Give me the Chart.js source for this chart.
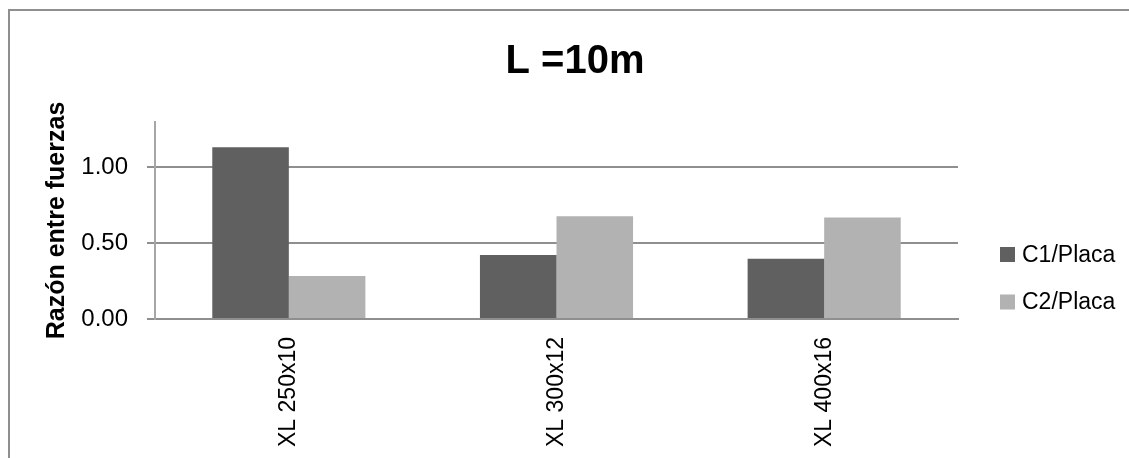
<!DOCTYPE html>
<html>
<head>
<meta charset="utf-8">
<script src="https://cdn.jsdelivr.net/npm/chart.js@4.4.0/dist/chart.umd.min.js"></script>
<style>
  html, body { margin: 0; padding: 0; background: #fff; }
  #wrap { width: 1129px; height: 458px; position: relative; }
</style>
</head>
<body>
<div id="wrap"><canvas id="grafico"></canvas></div>
<script>
// Datos del gráfico
var titulo = 'L =10m';
var categorias = ["XL 250x10", "XL 300x12", "XL 400x16"];
var c1Placa = [1.134, 0.423, 0.397];
var c2Placa = [0.283, 0.678, 0.669];
var ticksY = [0, 0.5, 1.0];
var maxY = 1.3;

var fuente = "'Liberation Sans', Arial, sans-serif";
var colorGris = '#8f8f8f';

// Marco exterior y título centrado sobre todo el lienzo
var marco = {
    id: 'marco',
    beforeDraw: function (chart) {
        var ctx = chart.ctx;
        ctx.save();
        ctx.strokeStyle = colorGris;
        ctx.lineWidth = 2;
        ctx.strokeRect(9, 10, 1200, 600);
        ctx.fillStyle = '#000';
        ctx.font = 'bold 40px ' + fuente;
        ctx.textAlign = 'center';
        ctx.textBaseline = 'middle';
        ctx.fillText(titulo, 575, 62);
        ctx.restore();
    }
};

// Leyenda a la derecha
var leyenda = {
    id: 'leyenda',
    afterDraw: function (chart) {
        var ctx = chart.ctx;
        var centros = [254.5, 302];
        ctx.save();
        ctx.font = '23px ' + fuente;
        ctx.textBaseline = 'middle';
        ctx.textAlign = 'left';
        chart.data.datasets.forEach(function (ds, i) {
            ctx.fillStyle = ds.backgroundColor;
            ctx.fillRect(1000, centros[i] - 7.5, 15, 15);
            ctx.fillStyle = '#000';
            ctx.fillText(ds.label, 1022, centros[i] + 1);
        });
        ctx.restore();
    }
};

var ctx = document.getElementById('grafico').getContext('2d');
var myChart = new Chart(ctx, {
    type: 'bar',
    data: {
        labels: categorias,
        datasets: [
            { label: 'C1/Placa', data: c1Placa, backgroundColor: '#606060' },
            { label: 'C2/Placa', data: c2Placa, backgroundColor: '#b2b2b2' }
        ]
    },
    options: {
        responsive: true,
        maintainAspectRatio: false,
        animation: false,
        layout: { padding: { left: 0, right: 171, top: 122, bottom: 0 } },
        datasets: {
            bar: { categoryPercentage: 0.572, barPercentage: 1.0, borderWidth: 0 }
        },
        plugins: {
            legend: { display: false },
            tooltip: { enabled: false },
            title: { display: false }
        },
        scales: {
            x: {
                grid: { display: false, drawTicks: false },
                border: { display: true, color: colorGris, width: 2 },
                ticks: {
                    color: '#000',
                    font: { family: fuente, size: 23 },
                    minRotation: 90,
                    maxRotation: 90,
                    padding: 18
                },
                afterFit: function (scale) { scale.height = 139; }
            },
            y: {
                min: 0,
                max: maxY,
                afterBuildTicks: function (scale) {
                    scale.ticks = ticksY.map(function (v) { return { value: v }; });
                },
                grid: { color: colorGris, lineWidth: 2, tickLength: 8, drawTicks: true },
                border: { display: true, color: '#a6a6a6', width: 2 },
                ticks: {
                    color: '#000',
                    font: { family: fuente, size: 24 },
                    padding: 19,
                    callback: function (v) { return Number(v).toFixed(2); }
                },
                title: {
                    display: true,
                    text: 'Razón entre fuerzas',
                    color: '#000',
                    font: { family: fuente, size: 25, weight: 'bold', lineHeight: 1.2 },
                    padding: { top: 42, bottom: 0 }
                },
                afterFit: function (scale) { scale.width = 155; }
            }
        }
    },
    plugins: [marco, leyenda]
});
</script>
</body>
</html>
